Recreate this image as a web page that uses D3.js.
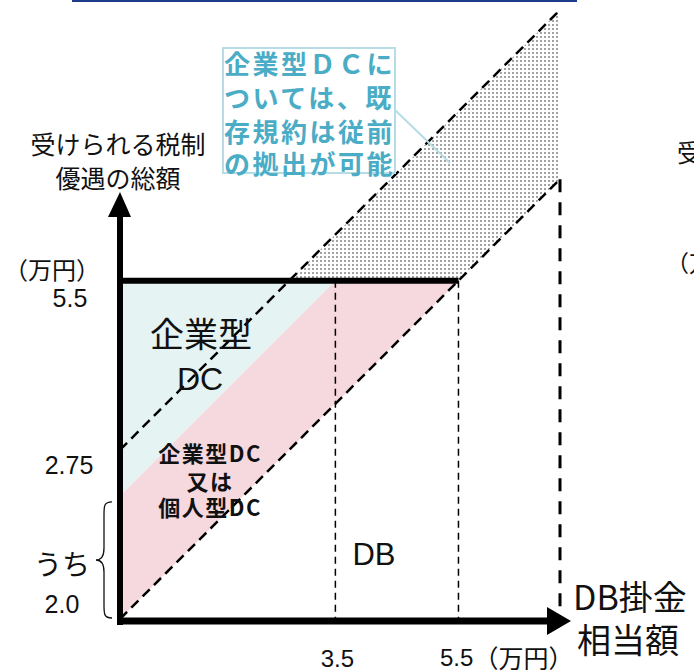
<!DOCTYPE html>
<html><head><meta charset="utf-8">
<script src="https://cdn.jsdelivr.net/npm/d3@7"></script>
<style>
html,body{margin:0;padding:0;background:#fff;overflow:hidden}
svg{display:block}
</style></head>
<body>
<script>
// ---- data ----
const totalCap = 5.5;          // 受けられる税制優遇の総額 上限（万円）
const dcOnlyShare = 2.0;       // うち 2.0
const oldDcOffset = 2.75;      // 2.75
const xTickValues = [3.5, 5.5];
const xTickLabels = ["3.5", "5.5"];
const yTickValues = [5.5, 2.75, 2.0];
const yTickLabels = ["5.5", "2.75", "2.0"];
const xMax = 7.15;
const yMax = 9.9;
const regionCorporateDC = [[0, 2.0], [0, 5.5], [3.5, 5.5]];
const regionEitherDC = [[0, 0], [0, 2.0], [3.5, 5.5], [5.5, 5.5]];
const regionLegacy = [[2.75, 5.5], [5.5, 5.5], [7.15, 7.15], [7.15, 9.9]];
const lineDB = [[0, 0], [7.15, 7.15]];
const lineLegacy = [[0, 2.75], [7.15, 9.9]];
const annotationLines = ["企業型ＤＣに", "ついては、既", "存規約は従前", "の拠出が可能"];
const yTitle = ["受けられる税制", "優遇の総額"];
const xTitle = ["DB掛金", "相当額"];

const W = 694, H = 671;
const svg = d3.select("body").append("svg").attr("width", W).attr("height", H);
const x = d3.scaleLinear().domain([0, xMax]).range([120, 560]);
const y = d3.scaleLinear().domain([0, yMax]).range([619, 10]);
const line = d3.line().x(d => x(d[0])).y(d => y(d[1]));
const poly = pts => line(pts) + "Z";
const JP = "'Noto Sans CJK JP','Noto Sans',sans-serif";
const NUM = "'Liberation Sans',Arial,sans-serif";

// top blue rule
svg.append("line").attr("x1", 72).attr("x2", 577).attr("y1", 1).attr("y2", 1)
  .attr("stroke", "#1f3b8c").attr("stroke-width", 2);

// dotted pattern
const defs = svg.append("defs");
const pat = defs.append("pattern").attr("id", "dots").attr("patternUnits", "userSpaceOnUse")
  .attr("width", 4).attr("height", 4);
pat.append("rect").attr("width", 4).attr("height", 4).attr("fill", "#fff");
pat.append("rect").attr("x", 0).attr("y", 0).attr("width", 2).attr("height", 2).attr("fill", "#a3a3a3");

// regions
svg.append("path").attr("d", poly(regionCorporateDC)).attr("fill", "#e6f3f3");
svg.append("path").attr("d", poly(regionEitherDC)).attr("fill", "#f6d8df");
svg.append("path").attr("d", poly(regionLegacy)).attr("fill", "url(#dots)");

// diagonal dashed lines
svg.append("path").attr("d", line(lineDB)).attr("fill", "none").attr("stroke", "#000")
  .attr("stroke-width", 2.5).attr("stroke-dasharray", "10,6");
svg.append("path").attr("d", line(lineLegacy)).attr("fill", "none").attr("stroke", "#000")
  .attr("stroke-width", 2.5).attr("stroke-dasharray", "10,6");

// vertical dashed lines
xTickValues.forEach(v => {
  svg.append("line").attr("x1", x(v)).attr("x2", x(v)).attr("y1", y(totalCap)).attr("y2", y(0))
    .attr("stroke", "#000").attr("stroke-width", 1.5).attr("stroke-dasharray", "7,5");
});
svg.append("line").attr("x1", x(xMax)).attr("x2", x(xMax)).attr("y1", y(xMax)).attr("y2", y(0))
  .attr("stroke", "#000").attr("stroke-width", 3).attr("stroke-dasharray", "13,10");

// cap line
svg.append("line").attr("x1", x(0)).attr("x2", x(totalCap)).attr("y1", y(totalCap)).attr("y2", y(totalCap))
  .attr("stroke", "#000").attr("stroke-width", 6);

// axes (thick arrows)
svg.append("line").attr("x1", x(0)).attr("x2", x(0)).attr("y1", y(0) + 6).attr("y2", 212)
  .attr("stroke", "#000").attr("stroke-width", 6);
svg.append("path").attr("d", `M${x(0)},192 L${x(0) - 12},217 L${x(0) + 11},217 Z`).attr("fill", "#000");
svg.append("line").attr("x1", x(0) - 3).attr("x2", 550).attr("y1", y(0) + 2).attr("y2", y(0) + 2)
  .attr("stroke", "#000").attr("stroke-width", 7);
svg.append("path").attr("d", `M571,${y(0) + 2} L547,${y(0) - 12} L547,${y(0) + 16} Z`).attr("fill", "#000");

// y title
yTitle.forEach((t, i) => {
  svg.append("text").attr("x", 118).attr("y", 143 + i * 34).attr("text-anchor", "middle")
    .attr("dominant-baseline", "central").attr("font-family", JP).attr("font-size", 25)
    .attr("fill", "#111").text(t);
});
svg.append("text").attr("x", 52).attr("y", 268).attr("text-anchor", "middle")
  .attr("dominant-baseline", "central").attr("font-family", JP).attr("font-size", 24)
  .attr("fill", "#111").text("（万円）");

// y tick labels
const yLabelPos = [[70, 17], [69, 15], [62, 108]];
yTickValues.forEach((v, i) => {
  svg.append("text").attr("x", yLabelPos[i][0]).attr("y", y(v) + yLabelPos[i][1])
    .attr("text-anchor", "middle").attr("dominant-baseline", "central")
    .attr("font-family", NUM).attr("font-size", 25).attr("fill", "#111").text(yTickLabels[i]);
});
svg.append("text").attr("x", 62).attr("y", 563).attr("text-anchor", "middle")
  .attr("dominant-baseline", "central").attr("font-family", JP).attr("font-size", 28)
  .attr("fill", "#111").text("うち");

// brace
const bTop = y(dcOnlyShare) + 6, bBot = y(0) - 1, bMid = (bTop + bBot) / 2;
svg.append("path").attr("d",
  `M112,${bTop} C104,${bTop} 104,${bTop + 4} 104,${bTop + 13} L104,${bMid - 12} C104,${bMid - 4} 101,${bMid} 96,${bMid}` +
  ` C101,${bMid} 104,${bMid + 4} 104,${bMid + 12} L104,${bBot - 13} C104,${bBot - 4} 104,${bBot} 112,${bBot}`)
  .attr("fill", "none").attr("stroke", "#111").attr("stroke-width", 1.3);

// x tick labels
svg.append("text").attr("x", x(xTickValues[0]) + 2).attr("y", 658).attr("text-anchor", "middle")
  .attr("dominant-baseline", "central").attr("font-family", NUM).attr("font-size", 24)
  .attr("fill", "#111").text(xTickLabels[0]);
const t55 = svg.append("text").attr("x", 440).attr("y", 657).attr("dominant-baseline", "central")
  .attr("fill", "#111");
t55.append("tspan").attr("font-family", NUM).attr("font-size", 24).text(xTickLabels[1]);
t55.append("tspan").attr("font-family", JP).attr("font-size", 25).text("（万円）");

// x title
xTitle.forEach((t, i) => {
  svg.append("text").attr("x", i === 0 ? 573 : 577).attr("y", 595 + i * 43)
    .attr("dominant-baseline", "central").attr("font-family", JP).attr("font-size", 34)
    .attr("fill", "#111").text(t);
});

// region labels
svg.append("text").attr("x", 201).attr("y", 332).attr("text-anchor", "middle")
  .attr("dominant-baseline", "central").attr("font-family", JP).attr("font-size", 34)
  .attr("fill", "#111").text("企業型");
svg.append("text").attr("x", 200).attr("y", 379).attr("text-anchor", "middle")
  .attr("dominant-baseline", "central").attr("font-family", NUM).attr("font-size", 32)
  .attr("fill", "#111").text("DC");
["企業型DC", "又は", "個人型DC"].forEach((t, i) => {
  svg.append("text").attr("x", 210).attr("y", [452, 480, 506][i]).attr("text-anchor", "middle")
    .attr("dominant-baseline", "central").attr("font-family", JP).attr("font-size", 22)
    .attr("letter-spacing", 1.5)
    .attr("font-weight", "bold").attr("fill", "#111").text(t);
});
svg.append("text").attr("x", 374).attr("y", 554).attr("text-anchor", "middle")
  .attr("dominant-baseline", "central").attr("font-family", NUM).attr("font-size", 31)
  .attr("fill", "#111").text("DB");

// annotation
svg.append("line").attr("x1", 395).attr("y1", 110).attr("x2", 450).attr("y2", 163)
  .attr("stroke", "#b6dde6").attr("stroke-width", 2);
svg.append("rect").attr("x", 223).attr("y", 48).attr("width", 172).attr("height", 125)
  .attr("fill", "#fff").attr("stroke", "#b6dde6").attr("stroke-width", 2);
annotationLines.forEach((t, i) => {
  svg.append("text").attr("x", 224).attr("y", [62, 96, 130, 162][i])
    .attr("dominant-baseline", "central").attr("font-family", JP).attr("font-size", 26)
    .attr("font-weight", "bold").attr("letter-spacing", 2.5).attr("fill", "#4bacc6").text(t);
});

// clipped neighbour labels at right edge
svg.append("text").attr("x", 677).attr("y", 151).attr("dominant-baseline", "central")
  .attr("font-family", JP).attr("font-size", 25).attr("fill", "#111").text("受けられる税制");
svg.append("text").attr("x", 666).attr("y", 262).attr("dominant-baseline", "central")
  .attr("font-family", JP).attr("font-size", 23).attr("fill", "#111").text("（万円）");
</script>
</body></html>
